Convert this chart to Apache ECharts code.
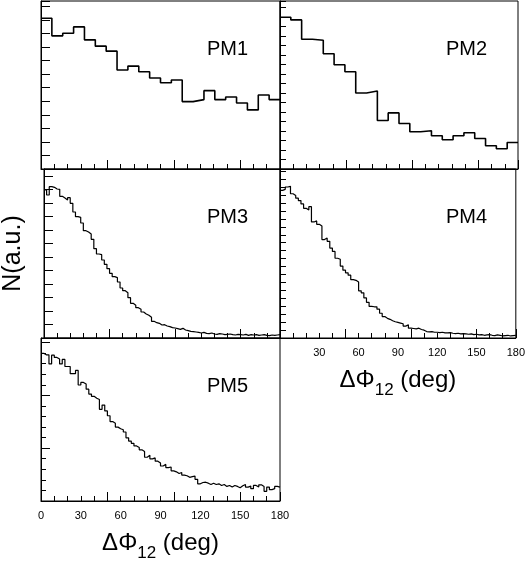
<!DOCTYPE html>
<html><head><meta charset="utf-8">
<script src="https://cdn.jsdelivr.net/npm/echarts@6/dist/echarts.min.js"></script>
<style>html,body{margin:0;padding:0;background:#fff}#c{width:528px;height:563px}</style>
</head><body><div id="c"></div>
<script>
// Histogram contents (arbitrary units), bins spanning 0..180 deg
const pm1 = [454, 401, 409, 428, 389, 370, 355, 298, 310, 293, 274, 260, 268, 203, 209, 236, 209, 217, 199, 178, 223, 209];
const pm2 = [457, 449, 391, 388, 347, 314, 293, 229, 235, 146, 169, 137, 112, 115, 100, 88, 100, 109, 92, 70, 61, 80];
const pm3 = [444, 429, 454, 452, 447, 446, 425, 420, 414, 421, 404, 378, 364, 362, 345, 322, 318, 312, 296, 268,
  252, 250, 234, 221, 208, 194, 184, 181, 168, 150, 142, 136, 121, 104, 98, 91, 86, 78, 72, 68,
  62, 50, 46, 44, 39, 40, 36, 34, 31, 30, 28, 26, 29, 24, 22, 20, 19, 18, 17, 15,
  17, 14, 13, 15, 12, 11, 13, 12, 10, 11, 12, 10, 9, 11, 10, 9, 11, 8, 10, 9,
  10, 8, 9, 10, 8, 7, 9, 8, 9, 10];
const pm4 = [435, 438, 445, 447, 425, 420, 412, 405, 395, 382, 377, 387, 342, 345, 335, 330, 290, 295, 285, 265,
  255, 235, 232, 212, 200, 192, 185, 172, 170, 165, 139, 133, 118, 105, 93, 92, 92, 85, 73, 63,
  58, 55, 51, 48, 46, 44, 42, 35, 39, 29, 28, 27, 29, 25, 23, 19, 18, 19, 17, 17,
  16, 17, 15, 15, 16, 14, 13, 14, 12, 13, 12, 11, 12, 10, 11, 9, 10, 8, 9, 10,
  8, 7, 9, 8, 6, 7, 8, 6, 7, 8];
const pm5 = [456, 451, 451, 423, 450, 443, 438, 423, 437, 415, 415, 393, 393, 403, 358, 366, 361, 345, 330, 323,
  317, 313, 283, 296, 278, 263, 245, 240, 228, 223, 220, 213, 195, 185, 178, 170, 165, 158, 153, 135,
  141, 130, 133, 123, 117, 108, 113, 103, 105, 93, 90, 85, 88, 80, 78, 73, 75, 77, 67, 53,
  57, 58, 55, 51, 55, 51, 53, 48, 51, 45, 48, 43, 48, 45, 41, 47, 51, 43, 46, 38,
  48, 43, 50, 45, 30, 43, 35, 38, 45, 43];
const panelNames = ['PM1', 'PM2', 'PM3', 'PM4', 'PM5'];
const xTickLabels = [0, 30, 60, 90, 120, 150, 180];

const FONT = "'Liberation Sans', Arial, Helvetica, sans-serif";
const series_vals = [pm1, pm2, pm3, pm4, pm5];
// layout / style per panel
const layout = [
  {left: 41, top: 1, width: 239, height: 168, ymax: 506, yMinor: 40.8, yMajor: null, tickLen: 9, lw: 1.6},
  {left: 280, top: 1, width: 238, height: 168, ymax: 506, yMinor: 28.6, yMajor: null, tickLen: 6, lw: 1.6},
  {left: 41, top: 169, width: 239, height: 169, ymax: 507, yMinor: 40.5, yMajor: null, tickLen: 9, lw: 1.2},
  {left: 280, top: 169, width: 238, height: 169, ymax: 498, yMinor: 23.4, yMajor: null, tickLen: 6, lw: 1.2},
  {left: 41, top: 338, width: 239, height: 168, ymax: 503, yMinor: 32.6, yMajor: 163, tickLen: 5, lw: 1.2}
];

function histData(vals) {
  const n = vals.length;
  const d = vals.map((v, i) => [i * 180 / n, v]);
  d.push([180, vals[n - 1]]);
  return d;
}

const grid = [], xAxis = [], yAxis = [], series = [], title = [];
const black = {color: '#000', width: 1};
layout.forEach((L, i) => {
  grid.push({left: L.left, top: L.top, width: L.width, height: L.height, show: true,
    borderColor: '#000', borderWidth: 1, backgroundColor: 'transparent', containLabel: false});
  const xMinorIdx = xAxis.length;
  xAxis.push({type: 'value', gridIndex: i, min: 0, max: 180, interval: 10, position: 'bottom',
    axisLine: {show: true, onZero: false, lineStyle: black},
    axisTick: {show: true, inside: true, length: 5, lineStyle: black},
    axisLabel: {show: false}, splitLine: {show: false}});
  xAxis.push({type: 'value', gridIndex: i, min: 0, max: 180, interval: 50, position: 'bottom',
    axisLine: {show: false, onZero: false},
    axisTick: {show: true, inside: true, length: 9, lineStyle: black},
    axisLabel: {show: false}, splitLine: {show: false}});
  const yIdx = yAxis.length;
  yAxis.push({type: 'value', gridIndex: i, min: 0, max: L.ymax, interval: L.yMinor, position: 'left',
    axisLine: {show: true, onZero: false, lineStyle: black},
    axisTick: {show: true, inside: true, length: L.tickLen, lineStyle: black},
    axisLabel: {show: false}, splitLine: {show: false}});
  if (L.yMajor) {
    yAxis.push({type: 'value', gridIndex: i, min: 0, max: L.ymax, interval: L.yMajor, position: 'left',
      axisLine: {show: false, onZero: false},
      axisTick: {show: true, inside: true, length: 9, lineStyle: black},
      axisLabel: {show: false}, splitLine: {show: false}});
  }
  series.push({type: 'line', xAxisIndex: xMinorIdx, yAxisIndex: yIdx, step: 'end',
    data: histData(series_vals[i]), showSymbol: false, symbol: 'none', silent: true,
    lineStyle: {color: '#000', width: L.lw}, animation: false});
  title.push({text: panelNames[i], left: L.left + 161, top: L.top + 33,
    textStyle: {fontFamily: FONT, fontSize: 20, fontWeight: 'normal', color: '#000'}});
});

const axisName = '{a|ΔΦ}{s|12}{a| (deg)}';
const nameRich = {
  a: {fontFamily: FONT, fontSize: 24, color: '#000', verticalAlign: 'bottom', padding: [0, 0, 7, 0]},
  s: {fontFamily: FONT, fontSize: 17, color: '#000', verticalAlign: 'bottom'}
};
[3, 4].forEach(gi => {
  xAxis.push({type: 'value', gridIndex: gi, min: 0, max: 180, interval: 30, position: 'bottom',
    axisLine: {show: false, onZero: false}, axisTick: {show: false}, splitLine: {show: false},
    axisLabel: {show: true, margin: 9, fontFamily: FONT, fontSize: 11, color: '#000',
      formatter: v => (gi === 3 && v === 0) ? '' : (xTickLabels.includes(v) ? String(v) : '')},
    name: axisName, nameLocation: 'middle', nameGap: 30,
    nameTextStyle: {rich: nameRich}});
});
yAxis[2].name = 'N(a.u.)';
yAxis[2].nameLocation = 'middle';
yAxis[2].nameRotate = 90;
yAxis[2].nameGap = 18;
yAxis[2].nameTextStyle = {fontFamily: FONT, fontSize: 25, color: '#000'};

const chart = echarts.init(document.getElementById('c'), null, {renderer: 'canvas'});
chart.setOption({animation: false, backgroundColor: '#fff', title, grid, xAxis, yAxis, series});
</script></body></html>
